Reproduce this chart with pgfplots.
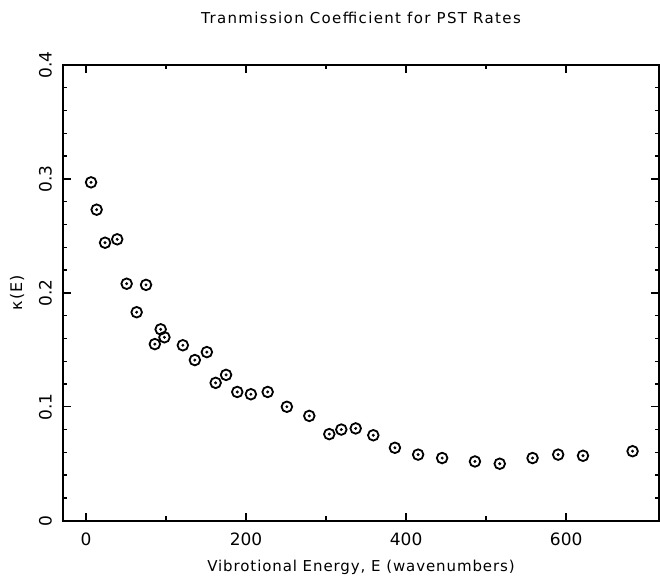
\documentclass[border=0pt]{standalone}
\usepackage{fontspec}
\setmainfont{DejaVu Sans}
\usepackage{pgfplots}
\pgfplotsset{compat=1.18}
\usepackage{pgfplotstable}

\pgfplotstableread{
x y
6.3 0.297
13.3 0.273
23.8 0.244
39 0.247
50.8 0.208
63.3 0.183
75 0.207
86 0.155
93.3 0.168
98 0.161
121 0.154
136 0.141
151 0.148
162 0.121
175 0.128
189 0.113
206 0.111
227 0.113
251 0.100
279 0.092
304 0.076
319 0.080
337 0.081
359 0.075
386 0.064
415 0.058
445 0.055
486 0.052
517 0.050
558 0.055
590 0.058
621 0.057
683 0.061
}\kappadata

\begin{document}
\begin{tikzpicture}
\begin{axis}[
  scale only axis, width=596pt, height=455.7pt,
  xmin=-28.75, xmax=716, ymin=0, ymax=0.4,
  axis line style={line width=1.8pt},
  every tick/.style={black, line width=1.4pt},
  tick align=inside,
  major tick length=8pt, minor tick length=4.5pt,
  xtick={0,200,400,600}, xticklabels={0,200,400,600},
  minor x tick num=1,
  ytick={0,0.1,0.2,0.3,0.4}, yticklabels={0,0.1,0.2,0.3,0.4},
  minor y tick num=4,
  tick label style={font=\fontsize{17}{19}\selectfont, inner sep=0pt},
  xticklabel style={anchor=north},
  xticklabel shift=12pt,
  yticklabel style={rotate=90, anchor=south},
  yticklabel shift=11pt,
  title={\addfontfeatures{LetterSpace=9}Tranmission Coefficient for PST Rates},
  title style={at={(axis description cs:0.5,1.0783)}, anchor=base, inner sep=0pt, font=\fontsize{15}{17}\selectfont},
  xlabel={\addfontfeatures{LetterSpace=6}Vibrotional Energy, E (wavenumbers)},
  xlabel style={at={(axis description cs:0.5,-0.1023)}, anchor=center, inner sep=0pt, font=\fontsize{15}{17}\selectfont},
  ylabel={\addfontfeatures{LetterSpace=6}κ(E)},
  ylabel style={at={(axis description cs:-0.0772,0.5)}, anchor=center, inner sep=0pt, font=\fontsize{16}{18}\selectfont},
  clip=false,
]
\addplot[only marks, mark=o, mark size=5.3pt, mark options={line width=1.8pt, black}] table {\kappadata};
\addplot[only marks, mark=*, mark size=1.3pt, black] table {\kappadata};
\end{axis}
\pgfresetboundingbox
\path[use as bounding box] ([xshift=-63pt,yshift=-59.3pt]current axis.south west) rectangle ([xshift=1pt,yshift=65pt]current axis.north east);
\end{tikzpicture}
\end{document}
